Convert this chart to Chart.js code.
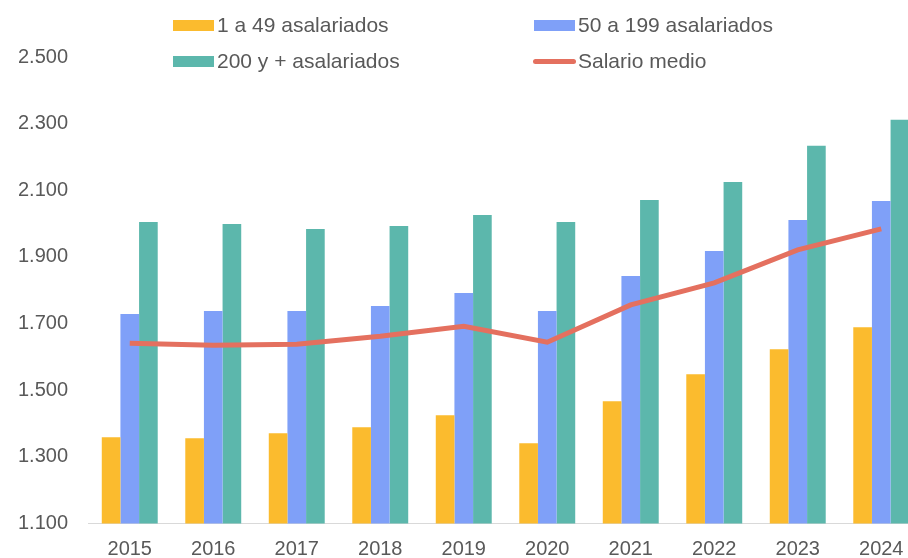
<!DOCTYPE html>
<html>
<head>
<meta charset="utf-8">
<script src="https://cdn.jsdelivr.net/npm/chart.js@4/dist/chart.umd.min.js"></script>
<style>
  html, body { margin: 0; padding: 0; background: #fff; overflow: hidden; }
  #wrap { position: relative; width: 908px; height: 558px; overflow: hidden; }
  #salarios { position: absolute; left: 0; top: 0; }
  .leg { position: absolute; font-family: "Liberation Sans", Arial, sans-serif; font-size: 21px; color: #595959; line-height: 24px; white-space: nowrap; }
  .leg span.box { position: absolute; left: -44px; top: 7px; width: 41px; height: 11px; }
  .leg span.line { position: absolute; left: -45px; top: 10px; width: 43px; height: 5px; border-radius: 3px; }
</style>
</head>
<body>
<div id="wrap">
  <canvas id="salarios" width="940" height="558"></canvas>
  <div class="leg" style="left:217px; top:13px;"><span class="box" style="background:#FBBB2E"></span>1 a 49 asalariados</div>
  <div class="leg" style="left:578px; top:13px;"><span class="box" style="background:#7FA0F8"></span>50 a 199 asalariados</div>
  <div class="leg" style="left:217px; top:49px;"><span class="box" style="background:#5CB7AC"></span>200 y + asalariados</div>
  <div class="leg" style="left:578px; top:49px;"><span class="line" style="background:#E4705F"></span>Salario medio</div>
</div>
<script>
// Years on the x axis
const years = ["2015", "2016", "2017", "2018", "2019", "2020", "2021", "2022", "2023", "2024"];

// Monthly salary by company size
const small = [1359, 1356, 1371, 1389, 1425, 1341, 1467, 1548, 1623, 1689];
const medium = [1729, 1738, 1738, 1753, 1792, 1738, 1843, 1918, 2011, 2068];
const large = [2005, 1999, 1984, 1993, 2026, 2005, 2071, 2125, 2234, 2312];
const average = [1641, 1635, 1638, 1662, 1692, 1644, 1756, 1822, 1921, 1984];

// Y axis range
const yMin = 1100;
const yMax = 2500;
const yStep = 200;

// spanish thousands separator
function fmt(v) {
  return String(v).replace(/\B(?=(\d{3})+(?!\d))/g, ".");
}

const canvas = document.getElementById("salarios");

new Chart(canvas, {
  type: "bar",
  data: {
    labels: years,
    datasets: [
      {
        type: "line",
        label: "Salario medio",
        data: average,
        borderColor: "#E4705F",
        borderWidth: 5,
        pointRadius: 0,
        tension: 0,
        fill: false,
        order: 0,
      },
      {
        label: "1 a 49 asalariados",
        data: small,
        backgroundColor: "#FBBB2E",
        order: 1,
      },
      {
        label: "50 a 199 asalariados",
        data: medium,
        backgroundColor: "#7FA0F8",
        order: 1,
      },
      {
        label: "200 y + asalariados",
        data: large,
        backgroundColor: "#5CB7AC",
        order: 1,
      },
    ],
  },
  options: {
    responsive: false,
    animation: false,
    layout: {
      padding: { top: 57, right: 17, bottom: 0, left: 0 },
    },
    datasets: {
      bar: {
        categoryPercentage: 0.67,
        barPercentage: 1.0,
      },
    },
    plugins: {
      legend: { display: false },
      tooltip: { enabled: false },
    },
    scales: {
      x: {
        grid: { display: false, drawTicks: false },
        border: { display: true, color: "#D9D9D9", width: 1 },
        ticks: {
          color: "#595959",
          font: { family: "Liberation Sans", size: 20 },
          padding: 14,
          maxRotation: 0,
        },
        afterFit(scale) {
          scale.height = 34.5;
        },
      },
      y: {
        min: yMin,
        max: yMax,
        grid: { display: false, drawTicks: false },
        border: { display: false },
        ticks: {
          stepSize: yStep,
          color: "#595959",
          font: { family: "Liberation Sans", size: 20 },
          padding: 20,
          callback: (v) => fmt(v),
        },
        afterFit(scale) {
          scale.width = 88;
        },
      },
    },
  },
});
</script>
</body>
</html>
